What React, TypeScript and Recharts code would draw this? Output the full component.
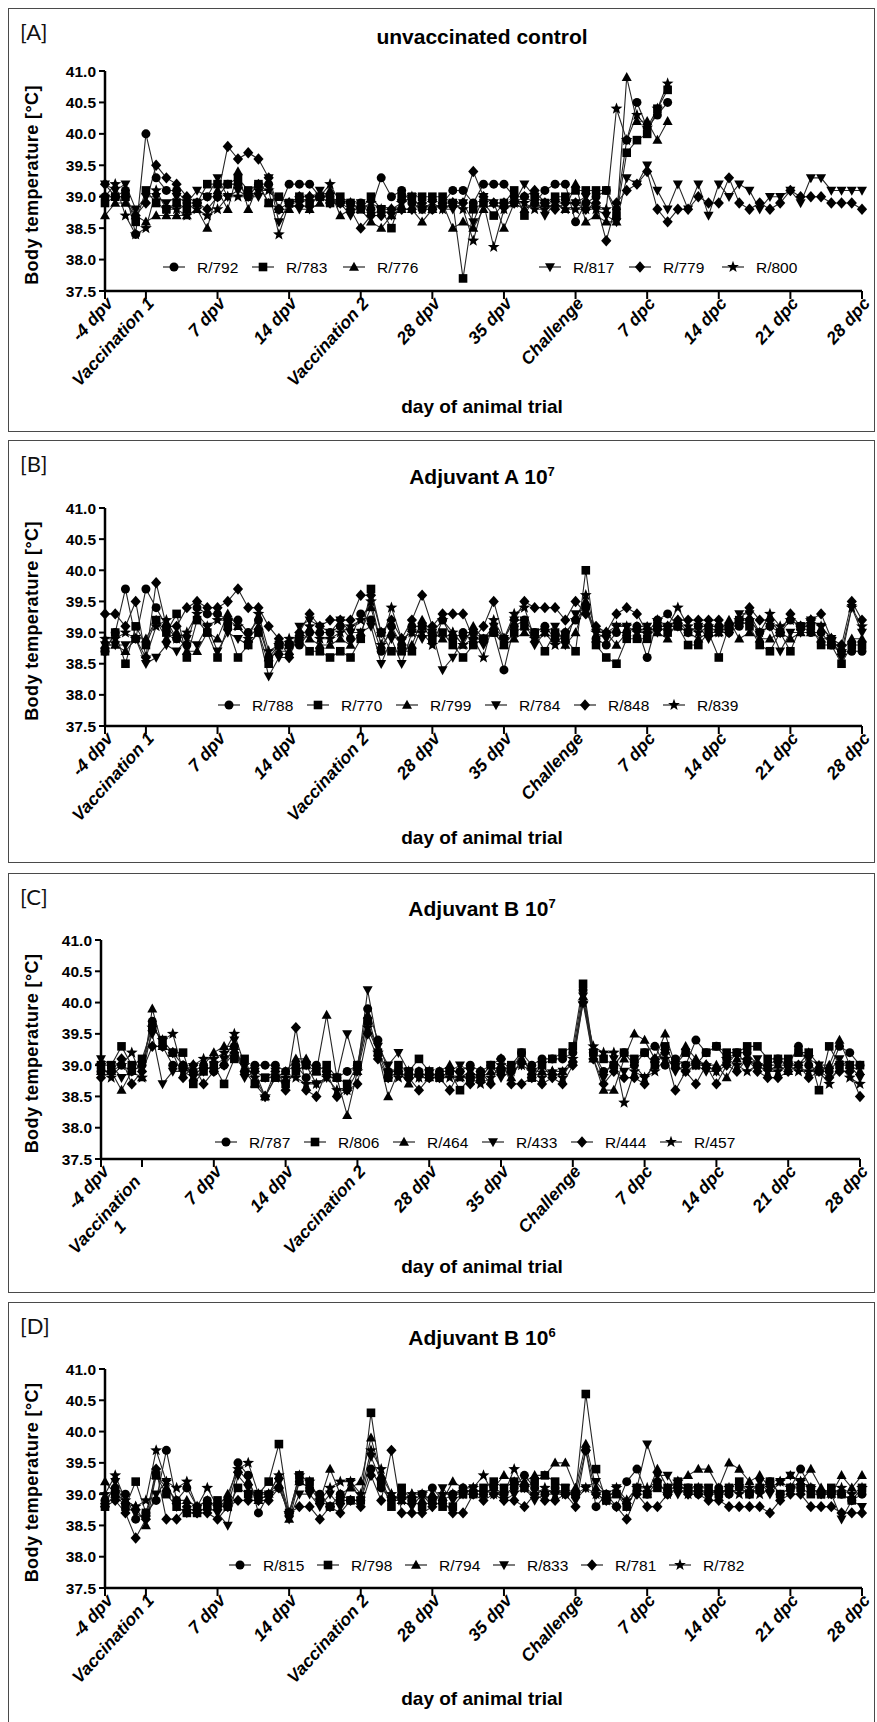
import React from "react";
import { LineChart, Line, XAxis, YAxis } from "recharts";

const FONT = "'Liberation Sans', Arial, sans-serif";

// x index 0 = -4 dpv ... 74 = 28 dpc (one reading per day)
const DAY_TICKS = [0, 4, 11, 18, 25, 32, 39, 46, 53, 60, 67, 74];
const DAY_LABELS = ["-4 dpv", "Vaccination 1", "7 dpv", "14 dpv", "Vaccination 2", "28 dpv", "35 dpv", "Challenge", "7 dpc", "14 dpc", "21 dpc", "28 dpc"];
const TEMP_TICKS = [37.5, 38, 38.5, 39, 39.5, 40, 40.5, 41];

type Shape = "circle" | "square" | "triangle" | "down" | "diamond" | "star";
const SHAPES: Shape[] = ["circle", "square", "triangle", "down", "diamond", "star"];

// [A] unvaccinated control
const A_NAMES = ["R/792", "R/783", "R/776", "R/817", "R/779", "R/800"];
const A_R792 = [
  39.0, 39.0, 39.1, 38.4, 40.0, 39.3, 39.1, 39.1, 38.9, 38.9, 39.0, 39.0, 39.2, 39.2, 39.0,
  39.2, 39.2, 38.8, 39.2, 39.2, 39.2, 39.0, 39.0, 38.9, 38.9, 38.9, 38.8, 39.3, 39.0, 39.1,
  38.9, 38.8, 38.8, 38.9, 39.1, 39.1, 38.9, 39.2, 39.2, 39.2, 39.0, 39.0, 38.9, 39.1, 39.2,
  39.2, 38.6, 38.9, 39.0, 39.1, 38.8, 39.9, 40.5, 40.1, 40.3, 40.5,
];
const A_R783 = [
  38.9, 39.0, 39.0, 38.6, 39.1, 38.9, 38.8, 38.9, 38.8, 38.9, 39.2, 39.2, 39.2, 39.3, 39.1,
  39.2, 38.9, 39.0, 38.9, 39.0, 38.9, 39.0, 38.9, 39.0, 38.9, 38.8, 39.0, 38.8, 38.5, 39.0,
  39.0, 39.0, 39.0, 39.0, 38.9, 37.7, 38.8, 38.9, 38.7, 38.9, 39.1, 38.7, 39.0, 38.9, 39.0,
  39.0, 39.1, 39.1, 39.1, 39.1, 38.7, 39.7, 39.9, 40.0, 40.4, 40.7,
];
const A_R776 = [
  38.7, 38.9, 38.9, 38.7, 38.6, 38.7, 38.7, 38.7, 38.7, 38.8, 38.5, 39.1, 38.8, 39.4, 38.8,
  39.2, 38.9, 38.8, 38.8, 38.9, 38.8, 38.9, 39.1, 38.7, 38.8, 38.8, 38.6, 38.5, 38.7, 38.8,
  38.8, 38.6, 38.8, 38.9, 38.5, 38.6, 38.5, 38.8, 38.9, 38.5, 38.9, 38.8, 38.9, 38.9, 38.9,
  38.8, 39.2, 38.6, 38.7, 38.6, 38.6, 40.9, 40.2, 40.2, 39.9, 40.2,
];
const A_R817 = [
  39.2, 39.1, 39.2, 38.8, 39.0, 39.0, 38.9, 39.0, 38.9, 39.1, 39.0, 39.3, 39.0, 39.1, 39.0,
  39.0, 39.3, 38.6, 38.9, 38.8, 38.8, 39.1, 39.0, 38.9, 38.7, 38.9, 38.7, 38.8, 38.7, 38.9,
  39.0, 38.8, 38.9, 38.8, 38.8, 38.9, 38.6, 39.0, 38.9, 38.8, 38.9, 39.2, 39.0, 38.7, 38.9,
  38.9, 38.9, 39.0, 38.8, 38.7, 38.6, 39.3, 39.2, 39.5, 39.1, 38.8, 39.2, 38.8, 39.2, 38.7,
  39.2, 39.0, 39.2, 39.1, 38.8, 39.0, 39.0, 39.1, 38.9, 39.3, 39.3, 39.1, 39.1, 39.1, 39.1,
];
const A_R779 = [
  39.2, 39.0, 39.0, 38.7, 38.9, 39.5, 39.3, 39.2, 39.0, 38.9, 38.8, 39.0, 39.8, 39.6, 39.7,
  39.6, 39.3, 38.8, 38.9, 39.0, 39.0, 39.0, 38.9, 38.9, 38.8, 38.5, 38.7, 38.7, 38.8, 38.8,
  38.8, 38.9, 38.8, 38.9, 38.9, 38.9, 39.4, 39.0, 38.9, 38.9, 38.9, 39.0, 39.1, 38.9, 38.8,
  38.9, 38.9, 38.8, 38.9, 38.3, 38.9, 39.1, 39.2, 39.4, 38.8, 38.6, 38.8, 38.8, 39.0, 38.9,
  38.9, 39.3, 38.9, 38.8, 38.9, 38.8, 38.9, 39.1, 39.0, 39.0, 39.0, 38.9, 38.9, 38.9, 38.8,
];
const A_R800 = [
  39.0, 39.2, 38.7, 38.4, 38.5, 39.1, 38.8, 38.8, 38.7, 38.8, 38.7, 38.8, 39.0, 39.0, 39.0,
  39.1, 39.1, 38.4, 38.9, 38.9, 39.0, 39.0, 39.2, 38.9, 38.9, 38.8, 38.9, 38.8, 38.8, 38.9,
  39.0, 38.8, 38.9, 38.8, 38.9, 38.8, 38.3, 38.9, 38.2, 38.8, 38.9, 38.9, 38.8, 38.8, 38.9,
  38.8, 38.8, 38.8, 38.8, 38.8, 40.4, 39.9, 40.3, 40.1, 40.4, 40.8,
];

// [B] Adjuvant A 10^7
const B_NAMES = ["R/788", "R/770", "R/799", "R/784", "R/848", "R/839"];
const B_R788 = [
  38.7, 39.0, 39.7, 38.9, 39.7, 39.4, 39.1, 38.9, 38.8, 39.4, 39.3, 39.3, 39.2, 39.2, 39.0,
  39.2, 38.6, 38.8, 38.8, 38.8, 39.0, 39.0, 39.0, 39.1, 38.9, 39.3, 39.2, 38.7, 39.1, 38.8,
  39.1, 39.1, 39.0, 39.2, 38.9, 39.0, 39.0, 38.9, 39.0, 38.4, 39.1, 39.2, 39.0, 39.1, 38.9,
  39.0, 39.2, 39.4, 38.9, 38.8, 39.0, 39.0, 39.1, 38.6, 39.2, 39.3, 39.1, 39.0, 39.1, 39.1,
  39.1, 39.0, 39.1, 39.2, 39.0, 39.1, 39.0, 39.2, 39.1, 39.0, 39.0, 38.8, 38.7, 38.7, 38.7,
];
const B_R770 = [
  38.7, 39.0, 38.5, 39.1, 38.8, 39.2, 39.0, 39.3, 38.6, 39.2, 39.0, 38.6, 39.1, 38.6, 38.8,
  39.0, 38.5, 38.8, 38.8, 38.9, 38.7, 38.7, 38.6, 38.7, 38.6, 38.9, 39.7, 39.0, 38.7, 38.7,
  38.7, 39.1, 38.9, 39.0, 38.8, 38.6, 38.8, 38.9, 39.0, 38.8, 39.0, 39.1, 39.0, 38.7, 39.0,
  38.9, 38.7, 40.0, 38.8, 38.6, 38.5, 38.9, 38.9, 38.9, 39.1, 39.0, 39.1, 38.8, 38.8, 39.0,
  38.6, 39.1, 39.2, 39.1, 38.8, 38.7, 39.0, 38.7, 39.1, 39.1, 38.8, 38.8, 38.5, 38.8, 38.8,
];
const B_R799 = [
  38.8, 38.8, 38.7, 38.9, 38.9, 39.2, 38.9, 39.0, 38.7, 38.7, 39.0, 38.9, 39.3, 39.1, 38.9,
  39.1, 38.6, 38.7, 38.7, 39.0, 38.9, 38.8, 38.8, 38.9, 38.8, 39.0, 39.4, 38.8, 39.0, 38.8,
  38.8, 39.2, 39.0, 38.9, 39.0, 38.8, 39.1, 38.9, 39.1, 38.8, 38.9, 39.0, 38.9, 39.0, 38.9,
  38.8, 39.0, 39.5, 38.9, 39.0, 38.8, 39.0, 39.1, 39.1, 39.0, 38.9, 39.2, 39.0, 38.9, 39.0,
  39.0, 39.2, 38.9, 39.0, 38.9, 38.9, 39.0, 38.9, 39.0, 39.0, 38.9, 38.9, 38.7, 38.9, 38.9,
];
const B_R784 = [
  38.8, 38.8, 38.8, 38.9, 38.5, 38.6, 38.8, 38.7, 38.9, 38.8, 39.1, 38.7, 39.0, 38.9, 38.8,
  39.0, 38.3, 38.6, 38.6, 39.1, 39.2, 39.1, 39.0, 39.2, 39.0, 39.0, 39.1, 38.5, 38.9, 38.5,
  39.0, 38.9, 39.0, 38.4, 38.6, 38.9, 39.0, 38.8, 39.1, 38.9, 39.2, 39.2, 38.8, 39.0, 39.1,
  38.8, 39.3, 39.4, 39.0, 38.9, 39.1, 39.1, 39.0, 39.1, 39.0, 39.1, 39.1, 39.0, 39.1, 38.9,
  39.0, 39.0, 39.3, 39.3, 39.0, 39.1, 38.7, 39.0, 39.0, 39.2, 39.1, 38.9, 38.6, 39.4, 39.0,
];
const B_R848 = [
  39.3, 39.3, 39.1, 39.5, 38.6, 39.8, 39.1, 39.1, 39.4, 39.5, 39.4, 39.4, 39.5, 39.7, 39.4,
  39.4, 39.1, 38.9, 38.6, 39.0, 39.3, 39.1, 39.2, 39.2, 39.2, 39.6, 39.6, 39.0, 39.2, 38.9,
  39.2, 39.6, 39.1, 39.3, 39.3, 39.3, 38.9, 39.1, 39.5, 38.9, 39.2, 39.5, 39.4, 39.4, 39.4,
  39.2, 39.5, 39.3, 39.1, 39.0, 39.3, 39.4, 39.3, 39.0, 39.1, 39.1, 39.2, 39.2, 39.2, 39.2,
  39.2, 39.0, 39.2, 39.4, 39.2, 39.2, 39.0, 39.3, 39.1, 39.2, 39.3, 38.9, 38.8, 39.5, 39.2,
];
const B_R839 = [
  38.9, 38.9, 39.0, 38.9, 38.6, 39.1, 39.2, 38.9, 39.0, 39.3, 39.1, 39.2, 39.2, 39.1, 38.9,
  39.3, 38.7, 38.8, 38.9, 38.9, 39.1, 38.9, 38.9, 39.0, 39.1, 39.2, 39.5, 38.8, 39.4, 38.9,
  39.0, 39.0, 38.8, 39.2, 39.0, 38.8, 38.9, 38.6, 39.2, 38.9, 39.3, 39.4, 38.9, 39.0, 38.8,
  39.0, 39.2, 39.6, 39.0, 39.0, 39.1, 39.1, 39.0, 39.0, 39.2, 39.1, 39.4, 39.1, 39.0, 39.1,
  39.0, 39.1, 39.2, 39.2, 39.0, 39.3, 39.1, 39.2, 39.1, 39.2, 39.1, 38.9, 38.7, 39.4, 39.1,
];

// [C] Adjuvant B 10^7
const C_NAMES = ["R/787", "R/806", "R/464", "R/433", "R/444", "R/457"];
const C_R787 = [
  38.9, 38.9, 39.0, 38.9, 39.0, 39.7, 39.3, 39.0, 39.0, 38.9, 39.0, 38.9, 39.0, 39.3, 38.9,
  39.0, 39.0, 39.0, 38.9, 39.0, 38.8, 39.0, 38.9, 38.8, 38.9, 39.0, 39.9, 39.4, 38.9, 38.9,
  38.8, 38.9, 38.8, 38.9, 38.9, 38.9, 39.0, 38.9, 39.0, 39.1, 38.9, 39.2, 39.0, 39.1, 39.1,
  39.1, 39.2, 40.2, 39.2, 38.9, 39.0, 39.2, 39.0, 39.2, 39.3, 39.0, 39.1, 39.0, 39.4, 39.2,
  39.3, 39.1, 39.2, 39.2, 39.0, 39.0, 39.1, 39.0, 39.3, 39.0, 38.9, 38.9, 39.3, 39.2, 39.0,
];
const C_R806 = [
  39.0, 39.0, 39.3, 39.0, 39.1, 39.6, 39.4, 39.2, 39.2, 38.7, 38.9, 39.0, 38.7, 39.1, 39.1,
  38.7, 38.8, 38.8, 38.7, 38.9, 39.0, 38.9, 39.0, 38.8, 38.7, 39.0, 39.7, 39.2, 38.8, 39.0,
  38.9, 39.1, 38.9, 38.8, 38.9, 38.6, 38.8, 38.8, 39.0, 38.9, 39.0, 39.2, 38.8, 39.0, 39.1,
  39.2, 39.3, 40.3, 39.2, 39.1, 39.0, 39.2, 39.1, 39.2, 39.0, 39.3, 39.0, 39.2, 39.0, 39.2,
  39.3, 39.2, 39.2, 39.3, 39.3, 39.1, 39.1, 39.1, 39.2, 39.2, 38.6, 39.3, 39.0, 39.0, 39.0,
];
const C_R464 = [
  38.9, 38.9, 38.6, 38.9, 38.8, 39.9, 39.3, 39.2, 39.0, 38.8, 39.0, 39.2, 39.3, 39.3, 38.9,
  38.7, 38.5, 38.8, 38.9, 39.1, 39.1, 38.9, 39.8, 38.8, 38.2, 38.9, 39.8, 39.2, 38.5, 38.9,
  38.7, 38.9, 38.8, 38.9, 39.0, 38.8, 38.9, 38.8, 38.9, 39.0, 38.8, 39.1, 38.9, 38.9, 38.9,
  38.9, 39.1, 40.1, 39.1, 38.6, 38.6, 39.1, 39.5, 39.4, 39.1, 39.5, 39.0, 39.3, 39.1, 39.0,
  39.0, 38.8, 39.1, 39.1, 39.0, 39.0, 39.0, 38.9, 39.0, 39.2, 39.0, 39.0, 39.4, 39.0, 38.9,
];
const C_R433 = [
  39.1, 39.0, 38.8, 38.9, 39.0, 39.5, 38.7, 38.9, 38.9, 38.8, 38.9, 39.0, 39.1, 39.4, 38.8,
  38.9, 38.8, 38.9, 38.7, 38.9, 39.0, 38.7, 38.8, 38.8, 39.5, 38.9, 40.2, 39.3, 39.0, 39.2,
  38.9, 38.8, 38.8, 38.8, 38.9, 39.0, 38.9, 38.8, 39.0, 38.8, 38.9, 39.0, 38.9, 39.0, 38.8,
  38.9, 39.0, 40.1, 39.2, 38.8, 39.1, 38.9, 39.0, 38.8, 39.0, 39.2, 38.9, 39.0, 39.0, 38.9,
  38.9, 39.0, 39.2, 39.0, 39.1, 38.9, 39.0, 39.0, 39.0, 39.1, 39.0, 38.9, 39.1, 39.0, 38.8,
];
const C_R444 = [
  38.8, 38.9, 39.1, 38.7, 38.9, 39.3, 39.3, 39.2, 38.8, 39.0, 38.7, 38.9, 39.0, 39.2, 38.9,
  38.9, 38.5, 38.9, 38.6, 39.6, 38.6, 38.5, 38.9, 38.5, 38.6, 38.7, 39.5, 39.1, 38.8, 38.9,
  38.8, 38.6, 38.8, 38.8, 38.6, 38.9, 38.7, 38.9, 38.7, 39.1, 38.7, 38.7, 38.8, 38.7, 38.8,
  38.7, 39.0, 40.0, 39.1, 38.7, 38.9, 38.8, 38.8, 38.7, 39.1, 39.2, 38.6, 38.9, 38.7, 39.0,
  38.7, 39.0, 38.9, 39.1, 38.9, 38.8, 38.8, 38.9, 39.0, 38.8, 38.9, 38.8, 38.9, 38.9, 38.5,
];
const C_R457 = [
  39.0, 38.8, 39.0, 39.2, 38.8, 39.6, 39.4, 39.5, 38.9, 39.0, 39.1, 39.1, 39.2, 39.5, 39.0,
  38.8, 38.5, 38.8, 38.8, 38.8, 38.7, 38.7, 38.8, 38.6, 38.6, 38.9, 39.6, 39.2, 38.9, 38.8,
  38.9, 38.8, 38.9, 38.8, 38.8, 38.8, 38.8, 38.7, 38.8, 39.0, 38.9, 39.0, 38.9, 38.8, 38.9,
  38.8, 39.1, 40.0, 39.3, 39.2, 39.2, 38.4, 38.9, 38.8, 38.9, 39.1, 39.0, 38.9, 39.0, 39.0,
  38.9, 39.1, 39.0, 38.9, 39.0, 38.9, 38.9, 39.0, 38.9, 38.9, 38.9, 38.7, 39.0, 38.8, 38.7,
];

// [D] Adjuvant B 10^6
const D_NAMES = ["R/815", "R/798", "R/794", "R/833", "R/781", "R/782"];
const D_R815 = [
  38.9, 39.1, 39.0, 38.6, 38.7, 38.9, 39.7, 38.9, 39.1, 38.8, 38.9, 38.8, 38.9, 39.5, 39.3,
  38.7, 39.0, 39.1, 38.7, 39.2, 39.1, 39.0, 38.8, 39.0, 38.9, 38.9, 39.4, 39.1, 38.9, 39.0,
  38.9, 39.0, 39.1, 38.9, 39.0, 39.1, 39.0, 39.0, 39.1, 39.0, 39.1, 39.3, 39.1, 39.0, 39.1,
  39.0, 39.0, 39.7, 38.8, 39.0, 38.8, 39.2, 39.4, 39.0, 39.2, 39.0, 39.1, 39.1, 39.0, 39.0,
  39.1, 39.0, 39.1, 39.0, 39.1, 39.2, 39.0, 39.1, 39.4, 39.1, 39.0, 39.0, 39.0, 38.9, 39.0,
];
const D_R798 = [
  38.8, 39.0, 38.8, 39.2, 38.7, 39.3, 39.0, 38.8, 38.7, 38.7, 38.8, 38.9, 38.8, 39.1, 39.0,
  39.0, 39.2, 39.8, 38.7, 39.3, 39.2, 38.9, 38.8, 38.9, 38.9, 38.9, 40.3, 39.2, 38.8, 39.1,
  38.9, 38.8, 38.9, 38.8, 38.8, 39.0, 39.0, 39.1, 39.2, 39.1, 39.2, 39.1, 39.2, 39.3, 39.2,
  39.1, 39.0, 40.6, 39.4, 38.9, 39.0, 38.8, 39.1, 39.0, 39.1, 39.1, 39.2, 39.1, 39.1, 39.1,
  39.0, 39.1, 39.2, 39.0, 39.1, 39.2, 39.0, 39.1, 39.1, 39.0, 39.0, 39.1, 39.0, 38.9, 39.1,
];
const D_R794 = [
  39.2, 39.0, 38.9, 38.8, 38.5, 39.3, 39.1, 38.9, 38.9, 38.8, 38.9, 38.8, 39.0, 39.4, 39.2,
  38.9, 39.0, 39.3, 38.6, 39.2, 39.1, 38.9, 39.4, 39.0, 39.1, 39.2, 39.9, 39.3, 39.0, 38.9,
  39.0, 38.9, 39.0, 38.9, 39.2, 39.1, 39.1, 39.0, 39.1, 39.3, 39.2, 39.2, 39.3, 39.3, 39.5,
  39.5, 39.1, 39.8, 39.1, 39.0, 39.0, 38.9, 39.1, 39.0, 39.4, 39.1, 39.2, 39.3, 39.4, 39.4,
  39.1, 39.5, 39.4, 39.2, 39.3, 39.1, 39.2, 39.3, 39.2, 39.4, 39.1, 39.0, 39.3, 39.1, 39.3,
];
const D_R833 = [
  38.8, 39.2, 38.8, 38.7, 38.6, 39.0, 39.2, 38.8, 38.7, 38.7, 38.8, 38.7, 38.5, 39.3, 39.1,
  38.9, 39.0, 39.2, 38.6, 39.0, 39.0, 38.8, 39.0, 38.8, 39.2, 38.9, 39.6, 39.2, 38.9, 38.9,
  38.8, 39.0, 38.8, 39.1, 38.9, 39.0, 39.1, 39.0, 39.1, 38.9, 39.0, 39.1, 38.9, 39.0, 39.0,
  39.1, 38.9, 39.1, 39.2, 39.0, 39.1, 38.8, 39.1, 39.8, 39.3, 39.3, 39.0, 39.1, 39.0, 39.1,
  39.0, 39.0, 39.1, 39.0, 39.2, 39.0, 39.2, 39.3, 39.2, 39.1, 39.0, 39.0, 38.6, 38.9, 38.8,
];
const D_R781 = [
  38.8, 38.9, 38.7, 38.3, 38.6, 39.4, 38.6, 38.6, 38.8, 38.7, 38.7, 38.6, 38.8, 38.9, 38.9,
  38.9, 38.9, 39.1, 38.7, 38.8, 38.8, 38.6, 38.8, 38.7, 38.9, 38.8, 39.3, 38.9, 39.7, 38.7,
  38.7, 38.7, 38.8, 38.9, 38.7, 38.7, 39.0, 38.9, 39.0, 38.9, 38.9, 38.8, 39.0, 38.9, 38.9,
  39.0, 38.8, 39.7, 39.0, 38.9, 38.8, 38.6, 39.0, 38.8, 38.8, 39.0, 39.1, 39.0, 39.0, 38.9,
  38.9, 38.8, 38.8, 38.8, 38.8, 38.7, 38.9, 39.0, 39.0, 38.8, 38.8, 38.8, 38.7, 38.7, 38.7,
];
const D_R782 = [
  39.0, 39.3, 38.9, 38.8, 38.9, 39.7, 39.2, 39.1, 39.2, 38.8, 39.1, 38.8, 38.8, 39.4, 39.5,
  39.0, 39.0, 39.3, 38.7, 39.3, 39.2, 38.9, 39.1, 39.2, 39.2, 39.0, 39.7, 39.4, 39.0, 38.9,
  39.0, 39.0, 38.9, 39.0, 39.0, 39.0, 39.1, 39.3, 39.0, 39.0, 39.4, 39.1, 39.0, 39.1, 39.0,
  39.0, 39.0, 39.1, 39.0, 38.9, 39.1, 38.9, 39.1, 39.1, 39.2, 39.0, 39.2, 39.0, 39.1, 39.0,
  39.0, 39.1, 39.0, 39.1, 39.0, 39.1, 39.2, 39.1, 39.2, 39.1, 39.0, 39.0, 39.1, 39.0, 39.1,
];

interface Panel {
  tag: string;
  title: string;
  sup: string;
  top: number;
  height: number;
  plotTop: number;
  plotBottom: number;
  plotLeft: number;
  plotRight: number;
  titleY: number;
  xTitleY: number;
  legendY: number;
  legendX: number[];
  splitVacc: boolean;
  names: string[];
  values: number[][];
}

const PANELS: Panel[] = [
  {
    tag: "[A]", title: "unvaccinated control", sup: "", top: 8, height: 424,
    plotTop: 63, plotBottom: 283, plotLeft: 97, plotRight: 854,
    titleY: 36, xTitleY: 405, legendY: 259, legendX: [155, 244, 335, 531, 621, 714],
    splitVacc: false, names: A_NAMES, values: [A_R792, A_R783, A_R776, A_R817, A_R779, A_R800],
  },
  {
    tag: "[B]", title: "Adjuvant A 10", sup: "7", top: 440, height: 423,
    plotTop: 68, plotBottom: 286, plotLeft: 97, plotRight: 854,
    titleY: 44, xTitleY: 404, legendY: 265, legendX: [210, 299, 388, 477, 566, 655],
    splitVacc: false, names: B_NAMES, values: [B_R788, B_R770, B_R799, B_R784, B_R848, B_R839],
  },
  {
    tag: "[C]", title: "Adjuvant B 10", sup: "7", top: 873, height: 420,
    plotTop: 67, plotBottom: 286, plotLeft: 93, plotRight: 852,
    titleY: 43, xTitleY: 400, legendY: 269, legendX: [207, 296, 385, 474, 563, 652],
    splitVacc: true, names: C_NAMES, values: [C_R787, C_R806, C_R464, C_R433, C_R444, C_R457],
  },
  {
    tag: "[D]", title: "Adjuvant B 10", sup: "6", top: 1302, height: 440,
    plotTop: 67, plotBottom: 286, plotLeft: 97, plotRight: 854,
    titleY: 43, xTitleY: 403, legendY: 263, legendX: [221, 309, 397, 485, 573, 661],
    splitVacc: false, names: D_NAMES, values: [D_R815, D_R798, D_R794, D_R833, D_R781, D_R782],
  },
];

const PANEL_W = 867;
const TICK_ANGLE = -48;

function starPoints(cx: number, cy: number, R: number, r: number) {
  const pts: string[] = [];
  for (let k = 0; k < 10; k++) {
    const a = -Math.PI / 2 + (k * Math.PI) / 5;
    const rad = k % 2 === 0 ? R : r;
    pts.push(`${(cx + rad * Math.cos(a)).toFixed(2)},${(cy + rad * Math.sin(a)).toFixed(2)}`);
  }
  return pts.join(" ");
}

function Marker({ cx, cy, shape }: { cx: number; cy: number; shape: Shape }) {
  switch (shape) {
    case "circle":
      return <circle cx={cx} cy={cy} r={4.5} fill="#000" />;
    case "square":
      return <rect x={cx - 4.3} y={cy - 4.3} width={8.6} height={8.6} fill="#000" />;
    case "triangle":
      return <polygon points={`${cx},${cy - 5.3} ${cx + 5},${cy + 3.7} ${cx - 5},${cy + 3.7}`} fill="#000" />;
    case "down":
      return <polygon points={`${cx},${cy + 5.3} ${cx + 5},${cy - 3.7} ${cx - 5},${cy - 3.7}`} fill="#000" />;
    case "diamond":
      return <polygon points={`${cx},${cy - 5.7} ${cx + 5.1},${cy} ${cx},${cy + 5.7} ${cx - 5.1},${cy}`} fill="#000" />;
    default:
      return <polygon points={starPoints(cx, cy, 6.2, 2.6)} fill="#000" />;
  }
}

const makeDot = (shape: Shape) => (props: any) => {
  const { cx, cy, index, value } = props;
  if (value == null || cx == null || cy == null || Number.isNaN(cy)) return <g key={`d${index}`} />;
  return (
    <g key={`d${index}`}>
      <Marker cx={cx} cy={cy} shape={shape} />
    </g>
  );
};

const tickText: React.CSSProperties = {
  fontFamily: FONT,
  fontSize: 17.5,
  fontWeight: 700,
  fontStyle: "italic",
  fill: "#000",
};

function XTick(props: any) {
  const { x, y, payload, split } = props;
  const label = DAY_LABELS[DAY_TICKS.indexOf(payload.value)];
  const t = `translate(${x + 9},${y + 5}) rotate(${TICK_ANGLE})`;
  if (split && label === "Vaccination 1") {
    return (
      <g transform={t}>
        <text textAnchor="end" x={-14} style={tickText}>Vaccination</text>
        <text textAnchor="middle" x={-62} y={19} style={tickText}>1</text>
      </g>
    );
  }
  return (
    <g transform={t}>
      <text textAnchor="end" style={tickText}>{label}</text>
    </g>
  );
}

function buildRows(values: number[][]) {
  return Array.from({ length: 75 }, (_, i) => {
    const row: Record<string, number | null> = { i };
    values.forEach((v, k) => {
      row[`s${k}`] = v[i] ?? null;
    });
    return row;
  });
}

function TemperaturePanel({ p }: { p: Panel }) {
  const rows = buildRows(p.values);
  const midY = (p.plotTop + p.plotBottom) / 2 + 4;
  return (
    <div style={{ position: "absolute", left: 8, top: p.top, width: PANEL_W, height: p.height }}>
      <LineChart
        width={PANEL_W}
        height={p.height}
        data={rows}
        margin={{ top: p.plotTop, right: PANEL_W - p.plotRight, bottom: 0, left: 0 }}
      >
        <XAxis
          type="number"
          dataKey="i"
          domain={[0, 74]}
          ticks={DAY_TICKS}
          interval={0}
          height={p.height - p.plotBottom}
          tickSize={8}
          tickMargin={0}
          axisLine={{ stroke: "#000", strokeWidth: 2.5 }}
          tickLine={{ stroke: "#000", strokeWidth: 2 }}
          tick={(tp: any) => <XTick {...tp} split={p.splitVacc} />}
        />
        <YAxis
          type="number"
          domain={[37.5, 41]}
          ticks={TEMP_TICKS}
          interval={0}
          width={p.plotLeft}
          tickSize={6}
          tickMargin={3}
          tickFormatter={(v: number) => v.toFixed(1)}
          axisLine={{ stroke: "#000", strokeWidth: 2.5 }}
          tickLine={{ stroke: "#000", strokeWidth: 2 }}
          tick={{ fontFamily: FONT, fontSize: 15.5, fontWeight: 700, fill: "#000" }}
        />
        {p.names.map((name, k) => (
          <Line
            key={name}
            name={name}
            dataKey={`s${k}`}
            stroke="#262626"
            strokeWidth={1.1}
            dot={makeDot(SHAPES[k])}
            activeDot={false}
            isAnimationActive={false}
          />
        ))}
      </LineChart>

      <svg
        width={PANEL_W}
        height={p.height}
        style={{ position: "absolute", left: 0, top: 0, pointerEvents: "none" }}
      >
        <text x={12} y={32} fontFamily="Lato, 'Open Sans', sans-serif" fontSize={22} fill="#111">
          {p.tag}
        </text>
        <text x={474} y={p.titleY} textAnchor="middle" fontFamily={FONT} fontSize={21} fontWeight={700} fill="#000">
          {p.title}
          {p.sup && (
            <tspan dy={-8} fontSize={13}>
              {p.sup}
            </tspan>
          )}
        </text>
        <text
          transform={`translate(30,${midY}) rotate(-90)`}
          textAnchor="middle"
          fontFamily={FONT}
          fontSize={18}
          fontWeight={700}
          letterSpacing={0.4}
          fill="#000"
        >
          Body temperature [°C]
        </text>
        <text x={474} y={p.xTitleY} textAnchor="middle" fontFamily={FONT} fontSize={19} fontWeight={700} fill="#000">
          day of animal trial
        </text>
        {p.names.map((name, k) => {
          const x0 = p.legendX[k];
          return (
            <g key={name}>
              <line x1={x0} x2={x0 + 22} y1={p.legendY} y2={p.legendY} stroke="#262626" strokeWidth={1.2} />
              <Marker cx={x0 + 11} cy={p.legendY} shape={SHAPES[k]} />
              <text x={x0 + 34} y={p.legendY} dy="0.36em" fontFamily={FONT} fontSize={15.5} fill="#000">
                {name}
              </text>
            </g>
          );
        })}
      </svg>

      <div
        style={{
          position: "absolute",
          left: 0,
          top: 0,
          width: PANEL_W,
          height: p.height,
          boxSizing: "border-box",
          border: "1.5px solid #4a4a4a",
          pointerEvents: "none",
        }}
      />
    </div>
  );
}

export default function App() {
  return (
    <div style={{ position: "relative", width: 877, height: 1722, background: "#fff", overflow: "hidden" }}>
      <style>{"body{margin:0;overflow:hidden;background:#fff}"}</style>
      {PANELS.map((p) => (
        <TemperaturePanel key={p.tag} p={p} />
      ))}
    </div>
  );
}
